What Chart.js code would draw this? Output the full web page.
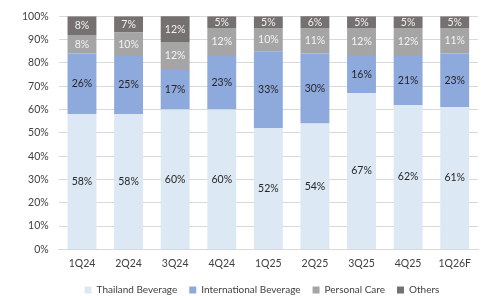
<!DOCTYPE html>
<html>
<head>
<meta charset="utf-8">
<script src="https://cdn.jsdelivr.net/npm/chart.js@4.4.1/dist/chart.umd.min.js"></script>
<style>
  html, body { margin: 0; padding: 0; background: #fff; }
  #wrap { width: 483px; height: 296px; position: relative; }
</style>
</head>
<body>
<div id="wrap"><canvas id="myChart"></canvas></div>
<script>
// quarters on the x axis
const quarters = ['1Q24', '2Q24', '3Q24', '4Q24', '1Q25', '2Q25', '3Q25', '4Q25', '1Q26F'];

// share of revenue per segment (%)
const thailandBev = [58, 58, 60, 60, 52, 54, 67, 62, 61];
const intlBev = [26, 25, 17, 23, 33, 30, 16, 21, 23];
const personalCare = [8, 10, 12, 12, 10, 11, 12, 12, 11];
const others = [8, 7, 12, 5, 5, 6, 5, 5, 5];

const yTicks = [0, 10, 20, 30, 40, 50, 60, 70, 80, 90, 100];

const fontFamily = 'Lato, "Open Sans", sans-serif';

// draws the % value in the middle of each segment
const segmentLabels = {
    id: 'segmentLabels',
    afterDatasetsDraw(chart) {
        const ctx = chart.ctx;
        ctx.save();
        ctx.font = '10.5px ' + fontFamily;
        ctx.textAlign = 'center';
        ctx.textBaseline = 'middle';
        chart.data.datasets.forEach((ds, i) => {
            const meta = chart.getDatasetMeta(i);
            ctx.fillStyle = ds.labelColor;
            meta.data.forEach((bar, j) => {
                const top = Math.max(bar.y, chart.chartArea.top);
                ctx.fillText(ds.data[j] + '%', bar.x, (top + bar.base) / 2);
            });
        });
        ctx.restore();
    }
};

// squeeze the legend a bit so the plot gets more room, and nudge it
const legendTweak = {
    id: 'legendTweak',
    beforeInit(chart) {
        const fit = chart.legend.fit;
        chart.legend.fit = function () {
            fit.call(this);
            this.height -= 14;
        };
    },
    afterLayout(chart) {
        chart.legend.left += 34;
        chart.legend.top -= 5;
    }
};

const ctx = document.getElementById('myChart').getContext('2d');
const myChart = new Chart(ctx, {
    type: 'bar',
    data: {
        labels: quarters,
        datasets: [
            { label: 'Thailand Beverage', data: thailandBev, backgroundColor: '#DDE8F5', labelColor: '#262626' },
            { label: 'International Beverage', data: intlBev, backgroundColor: '#8EA9DB', labelColor: '#262626' },
            { label: 'Personal Care', data: personalCare, backgroundColor: '#A5A5A5', labelColor: '#F2F2F2' },
            { label: 'Others', data: others, backgroundColor: '#767171', labelColor: '#F2F2F2' }
        ]
    },
    options: {
        responsive: true,
        maintainAspectRatio: false,
        animation: false,
        layout: { padding: { left: 12, right: 5, top: 8, bottom: 0 } },
        datasets: { bar: { categoryPercentage: 0.62, barPercentage: 1.0 } },
        plugins: {
            legend: {
                position: 'bottom',
                labels: {
                    boxWidth: 7,
                    boxHeight: 7,
                    padding: 12,
                    color: '#404040',
                    font: { family: fontFamily, size: 10 }
                }
            },
            tooltip: { enabled: false }
        },
        scales: {
            x: {
                stacked: true,
                grid: { display: false, drawTicks: false },
                border: { display: true, color: '#D9D9D9' },
                ticks: { color: '#404040', font: { family: fontFamily, size: 10.5 }, padding: 8 }
            },
            y: {
                stacked: true,
                min: 0,
                max: 100,
                afterBuildTicks: axis => { axis.ticks = yTicks.map(v => ({ value: v })); },
                grid: { color: '#D9D9D9', drawTicks: false },
                border: { display: false },
                ticks: {
                    color: '#404040',
                    font: { family: fontFamily, size: 10.5 },
                    padding: 10,
                    callback: v => v + '%'
                }
            }
        }
    },
    plugins: [segmentLabels, legendTweak]
});
</script>
</body>
</html>
